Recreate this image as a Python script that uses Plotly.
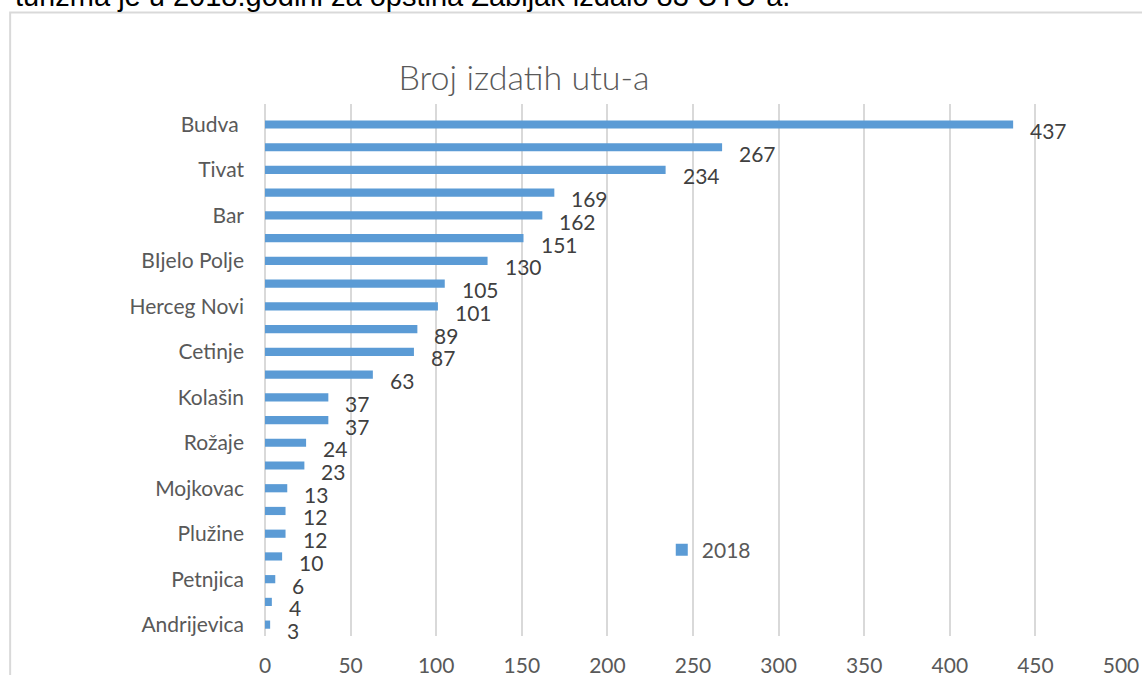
import plotly.graph_objects as go

# ---- data ----
categories = ["Budva\u00a0", "Podgorica", "Tivat", "Kotor", "Bar", "Ulcinj", "BIjelo Polje",
              "Nikšić", "Herceg Novi", "Danilovgrad", "Cetinje", "Pljevlja", "Kolašin",
              "Berane", "Rožaje", "Žabljak", "Mojkovac", "Plav", "Plužine", "Šavnik",
              "Petnjica", "Gusinje", "Andrijevica"]
values = [437, 267, 234, 169, 162, 151, 130, 105, 101, 89, 87, 63, 37, 37, 24, 23,
          13, 12, 12, 10, 6, 4, 3]
shown_labels = categories[::2]
x_ticks = [0, 50, 100, 150, 200, 250, 300, 350, 400, 450, 500]
series_name = "2018"
title_text = "Broj izdatih utu-a"
top_text = "turizma je u 2018.godini za opština Žabljak izdalo 83 UTU-a."

W, H = 1142, 675
L, R, T, B = 265, 20.5, 103.5, 39
pw, ph = W - L - R, H - T - B

BAR = "#5B9BD5"
GRID = "#D9D9D9"
TXT = "#404040"
LBL = "#595959"
FONT = "Lato"

fig = go.Figure()
fig.add_trace(go.Bar(
    x=values, y=categories, orientation="h", name=series_name,
    marker=dict(color=BAR, line=dict(width=0)), width=0.36,
    showlegend=True,
))

for v, c in zip(values, categories):
    fig.add_annotation(x=v, y=c, xref="x", yref="y", text=str(v), showarrow=False,
                       xanchor="left", yanchor="middle", xshift=15, yshift=-6,
                       font=dict(family=FONT, size=21, color=TXT))

# chart frame (cropped chart area border)
fig.add_shape(type="rect", xref="paper", yref="paper",
              x0=(10 - L) / pw, x1=1.2, y0=-0.3, y1=(H - B - 12) / ph,
              line=dict(color=GRID, width=2), fillcolor="rgba(0,0,0,0)", layer="below")

# partially visible text above the chart
fig.add_annotation(xref="paper", yref="paper", x=(792 - L) / pw, y=(H - B - 13) / ph,
                   text=top_text, showarrow=False, xanchor="right", yanchor="bottom",
                   font=dict(family="Liberation Sans", size=29, color="#000000"))

fig.update_layout(
    width=W, height=H,
    margin=dict(l=L, r=R, t=T, b=B, pad=0),
    paper_bgcolor="white", plot_bgcolor="white",
    font=dict(family=FONT, size=21, color=TXT),
    title=dict(text=title_text, x=524 / W, xanchor="center", xref="container",
               y=1 - 78 / H, yanchor="middle", yref="container",
               font=dict(family=FONT, size=34, color=LBL, weight=300)),
    legend=dict(x=(662 - L) / pw, y=(H - B - 550) / ph, xanchor="left", yanchor="middle",
                bgcolor="rgba(0,0,0,0)", font=dict(family=FONT, size=21, color=LBL),
                itemwidth=30),
)

fig.update_xaxes(range=[0, 500], tickvals=x_ticks, showgrid=True, gridcolor=GRID, gridwidth=2,
                 zeroline=True, zerolinecolor=GRID, zerolinewidth=2, showline=False,
                 ticks="", ticklabelstandoff=15, automargin=False,
                 tickfont=dict(family=FONT, size=21, color=LBL))
fig.update_yaxes(type="category", categoryorder="array", categoryarray=categories,
                 autorange="reversed", tickvals=shown_labels, ticktext=shown_labels,
                 showgrid=False, zeroline=False, showline=False, ticks="",
                 ticklabelstandoff=20, automargin=False,
                 tickfont=dict(family=FONT, size=21, color=LBL))

fig.write_html("out.html", config={"displayModeBar": False},
               post_script="document.body.style.margin='0';document.body.style.overflow='hidden';")
